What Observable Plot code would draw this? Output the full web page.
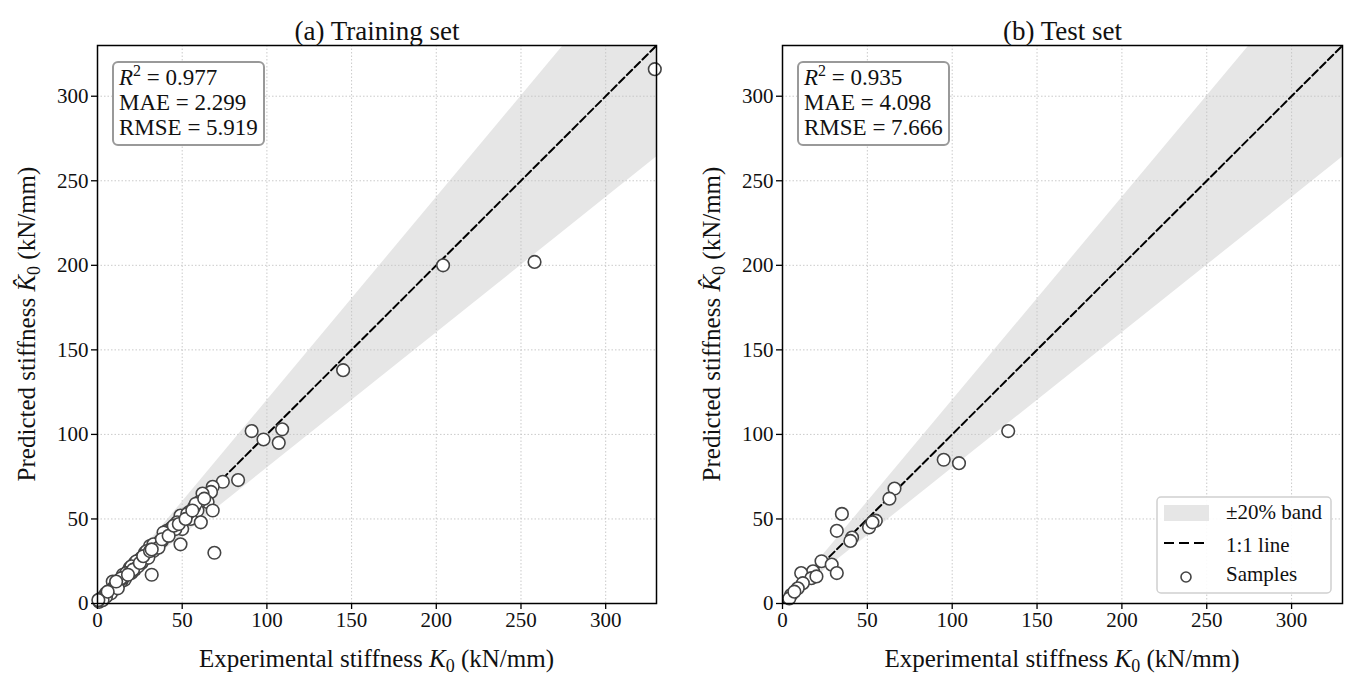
<!DOCTYPE html>
<html>
<head>
<meta charset="utf-8">
<script src="https://cdn.jsdelivr.net/npm/d3@7"></script>
<script src="https://cdn.jsdelivr.net/npm/@observablehq/plot@0.6"></script>
<style>
  body { margin: 0; background: white; }
  #wrap { display: flex; width: 1353px; height: 681px; }
  svg { display: block; }
</style>
</head>
<body>
<div id="wrap"></div>
<script>
// ---- data ----
const axisTicks = [0, 50, 100, 150, 200, 250, 300];
const axisDomain = [0, 330];
const bandFactor = 0.2;
const bandX = [0, 330];

const trainK = [329,258,204,145,91,98,109,107,83,74,68,67,62,65,60,59,68,49,55,61,54,50,43,42,40,49,69,37,36,34,31,33,28,29,26,25,24,32,22,22,20,19,18,17,16,14,12,9,10,8,7,6,5,4,3,2,1,11,13,15,21,23,27,30,35,38,41,44,46,53,57,58,47,26,30,8,12,20,29,33,5,1,3,6,17,24,39,36,0.5,15,19,21,25,27,31,32,38,42,45,48,52,56,63,14,11,18];
const trainPred = [316,202,200,138,102,97,103,95,73,72,69,66,65,60,60,55,55,52,50,48,54,44,44,42,40,35,30,37,35,33,34,31,30,28,27,26,23,17,24,20,18,21,19,16,14,13,12,13,10,8,7,5,6,4,3,3,2,11,14,17,22,25,26,29,34,37,43,45,44,53,57,59,48,24,27,6,9,22,31,35,4,1,2,7,18,22,42,33,2,15,18,20,24,28,31,32,38,40,46,47,50,55,62,15,13,17];

const testK = [133,95,104,66,63,35,32,55,51,53,41,40,23,29,32,18,11,17,20,12,9,5,4,7];
const testPred = [102,85,83,68,62,53,43,49,45,48,39,37,25,23,18,19,18,15,16,12,9,5,3,7];

const titles = ["(a) Training set", "(b) Test set"];
const statR2 = ["0.977", "0.935"];
const statMAE = ["2.299", "4.098"];
const statRMSE = ["5.919", "7.666"];
const legendLabels = ["\u00B120% band", "1:1 line", "Samples"];

const FONT = "Liberation Serif, Times New Roman, serif";

function panel(kx, ky, title, idx, width, mL, mR, showLegend) {
  const pts = kx.map((k, i) => ({k, p: ky[i]}));
  const plot = Plot.plot({
    width, height: 681,
    marginLeft: mL, marginRight: mR, marginTop: 45, marginBottom: 78,
    style: {fontFamily: FONT, fontSize: "21px", background: "white", color: "#111"},
    x: {domain: axisDomain, ticks: axisTicks, label: null},
    y: {domain: axisDomain, ticks: axisTicks, label: null},
    marks: [
      Plot.areaY(bandX, {x: d => d, y1: d => d * (1 - bandFactor), y2: d => d * (1 + bandFactor), fill: "#e6e6e6", clip: true}),
      Plot.gridX(axisTicks, {stroke: "#c4c4c4", strokeOpacity: 1, strokeWidth: 0.9, strokeDasharray: "1.5,2"}),
      Plot.gridY(axisTicks, {stroke: "#c4c4c4", strokeOpacity: 1, strokeWidth: 0.9, strokeDasharray: "1.5,2"}),
      Plot.line(bandX, {x: d => d, y: d => d, stroke: "black", strokeWidth: 2, strokeDasharray: "7.5,3.5", clip: true}),
      Plot.dot(pts, {x: "k", y: "p", r: 6.3, fill: "white", stroke: "#444", strokeWidth: 1.6}),
      Plot.frame({stroke: "black", strokeWidth: 1.5}),
      Plot.axisX(axisTicks, {tickSize: 6, tickPadding: 3, stroke: "black", strokeWidth: 1.3, fontSize: 21, label: null}),
      Plot.axisY(axisTicks, {tickSize: 6, tickPadding: 3, stroke: "black", strokeWidth: 1.3, fontSize: 21, label: null}),
      Plot.text([title], {frameAnchor: "top", dy: -25, fontSize: 27, fill: "#111"})
    ]
  });
  const svg = d3.select(plot);
  const xr = plot.scale("x").range, yr = plot.scale("y").range;
  const x0 = xr[0], x1 = xr[1], yb = yr[0], yt = yr[1];
  const g = svg.append("g").attr("font-family", FONT).attr("fill", "#111").attr("text-anchor", "start");

  // x label
  const xl = g.append("text").attr("x", (x0 + x1) / 2).attr("y", yb + 64)
    .attr("text-anchor", "middle").attr("font-size", 25);
  xl.append("tspan").text("Experimental stiffness ");
  xl.append("tspan").attr("font-style", "italic").text("K");
  xl.append("tspan").attr("font-size", 18).attr("dy", 5).text("0");
  xl.append("tspan").attr("dy", -5).text(" (kN/mm)");

  // y label
  const yl = g.append("text").attr("transform", `translate(${x0 - 62},${(yb + yt) / 2}) rotate(-90)`)
    .attr("text-anchor", "middle").attr("font-size", 25);
  yl.append("tspan").text("Predicted stiffness ");
  yl.append("tspan").attr("font-style", "italic").text("K\u0302");
  yl.append("tspan").attr("font-size", 18).attr("dy", 5).text("0");
  yl.append("tspan").attr("dy", -5).text(" (kN/mm)");

  // stats box
  const bx = x0 + 16, by = yt + 17;
  g.append("rect").attr("x", bx).attr("y", by).attr("width", 151).attr("height", 83)
    .attr("rx", 5).attr("fill", "white").attr("stroke", "#999").attr("stroke-width", 2);
  const t1 = g.append("text").attr("x", bx + 6).attr("y", by + 23).attr("font-size", 23);
  t1.append("tspan").attr("font-style", "italic").text("R");
  t1.append("tspan").attr("font-size", 16).attr("dy", -9).text("2");
  t1.append("tspan").attr("dy", 9).text(" = " + statR2[idx]);
  g.append("text").attr("x", bx + 6).attr("y", by + 48).attr("font-size", 23).text("MAE = " + statMAE[idx]);
  g.append("text").attr("x", bx + 6).attr("y", by + 73).attr("font-size", 23).text("RMSE = " + statRMSE[idx]);

  if (showLegend) {
    const lw = 174, lh = 96;
    const lx = x1 - 11 - lw, ly = yb - 10 - lh;
    g.append("rect").attr("x", lx).attr("y", ly).attr("width", lw).attr("height", lh)
      .attr("rx", 4).attr("fill", "white").attr("fill-opacity", 0.9).attr("stroke", "#d0d0d0").attr("stroke-width", 1.5);
    g.append("rect").attr("x", lx + 7).attr("y", ly + 8).attr("width", 45).attr("height", 16).attr("fill", "#e6e6e6");
    g.append("line").attr("x1", lx + 7).attr("x2", lx + 52).attr("y1", ly + 46).attr("y2", ly + 46)
      .attr("stroke", "black").attr("stroke-width", 2).attr("stroke-dasharray", "10,5");
    g.append("circle").attr("cx", lx + 29).attr("cy", ly + 80).attr("r", 5)
      .attr("fill", "white").attr("stroke", "#444").attr("stroke-width", 1.6);
    const baselines = [22, 55, 84];
    legendLabels.forEach((s, i) => {
      g.append("text").attr("x", lx + 69).attr("y", ly + baselines[i]).attr("font-size", 21).text(s);
    });
  }
  return plot;
}

const wrap = document.getElementById("wrap");
wrap.appendChild(panel(trainK, trainPred, titles[0], 0, 676, 97, 20, false));
wrap.appendChild(panel(testK, testPred, titles[1], 1, 677, 106, 11, true));
</script>
</body>
</html>
